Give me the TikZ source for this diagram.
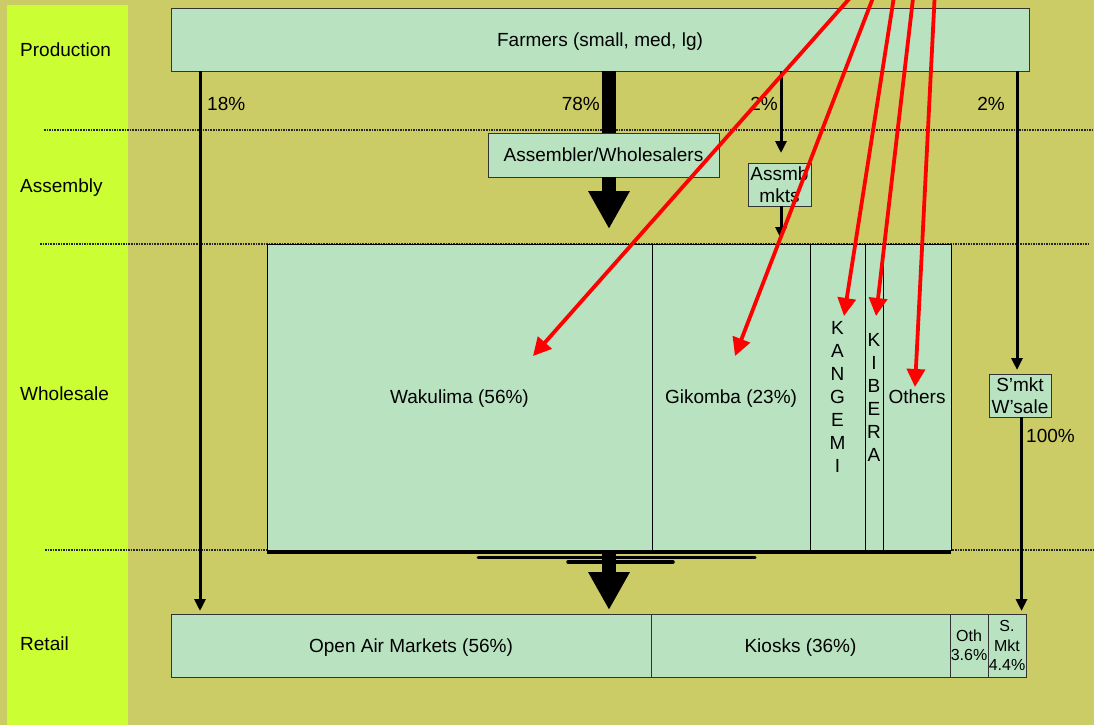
\documentclass[tikz,border=0pt]{standalone}
\usepackage{fontspec}
\setmainfont{Liberation Sans}
\usepackage{tikz}
\usetikzlibrary{positioning,arrows.meta,calc}
\definecolor{bgolive}{RGB}{204,204,102}
\definecolor{bandlime}{RGB}{204,255,51}
\definecolor{boxgreen}{RGB}{185,227,192}

\begin{document}
\begin{tikzpicture}[
  x=1pt, y=-1pt,
  font=\fontsize{19}{22}\selectfont,
  box/.style={draw=black!80, line width=1pt, fill=boxgreen, inner sep=0pt, outer sep=0pt, align=center},
  col/.style={box, draw=black, minimum height=306pt},
  ret/.style={box, minimum height=63pt},
  small/.style={font=\fontsize{16}{19.5}\selectfont},
  arr/.style={line width=3pt, -{Triangle[width=11pt,length=12pt]}},
  bigarr/.style={line width=14pt, -{Triangle[width=39pt,length=38pt]}},
  redarr/.style={red, line width=3.8pt, -{Triangle[width=18pt,length=18pt]}},
  sep/.style={densely dotted, line width=1.6pt, black!85},
  layer/.style={anchor=west, inner sep=0pt},
  pct/.style={inner sep=0pt}]
  \useasboundingbox (0,0) rectangle (1094,725);
  \clip (0,0) rectangle (1094,725);
  \fill[bgolive] (0,0) rectangle (1094,725);
  \fill[bandlime] (7,5) rectangle (128,725);
  % layer separators
  \draw[sep] (44,130) -- (1094,130);
  \draw[sep] (40,244) -- (1090,244);
  \draw[sep] (45,550) -- (1094,550);
  % layers
  \node[layer] (lprod) at (20,50) {Production};
  \node[layer] (lasm) at (20,188) {Assembly};
  \node[layer] (lwhl) at (20,394) {Wholesale};
  \node[layer] (lret) at (20,644) {Retail};
  % production and assembly
  \node[box, text depth=0pt, anchor=north west, minimum width=858pt, minimum height=62pt] (farmers) at (171,9) {Farmers (small, med, lg)};
  \node[box, text depth=0pt, anchor=north west, minimum width=231pt, minimum height=44pt] (asm) at (488,133) {Assembler/Wholesalers};
  \node[box, anchor=north west, minimum width=63pt, minimum height=43pt] (amkt) at (748,163) {\makebox[0pt]{Assmb}\\\makebox[0pt]{mkts}};
  % wholesale markets
  \node[col, text depth=0pt, anchor=north west, minimum width=385pt] (wak) at (267,244) {Wakulima (56\%)};
  \node[col, text depth=0pt, right=0pt of wak, minimum width=158pt] (gik) {Gikomba (23\%)};
  \node[col, right=0pt of gik, minimum width=55pt, font=\fontsize{19}{23}\selectfont] (kan) {K\\A\\N\\G\\E\\M\\I};
  \node[col, right=0pt of kan, minimum width=18pt, font=\fontsize{19}{23}\selectfont] (kib) {K\\I\\B\\E\\R\\A};
  \node[col, text depth=0pt, right=0pt of kib, minimum width=68pt] (oth) {Others};
  \node[box, anchor=north west, minimum width=62pt, minimum height=43pt] (swh) at (989,374) {S'mkt\\W'sale};
  % retail
  \node[ret, text depth=0pt, anchor=north west, minimum width=480pt] (oam) at (171,614) {Open Air Markets (56\%)};
  \node[ret, text depth=0pt, right=0pt of oam, minimum width=299pt] (kio) {Kiosks (36\%)};
  \node[ret, right=0pt of kio, minimum width=38pt, small] (roth) {Oth\\3.6\%};
  \node[ret, right=0pt of roth, minimum width=38pt, small] (smkt) {S.\\Mkt\\4.4\%};
  % shares
  \node[pct, anchor=west] (p18) at (207,104) {18\%};
  \node[pct, anchor=east] (p78) at (600,104) {78\%};
  \node[pct] (p2a) at (764,104) {2\%};
  \node[pct] (p2b) at (991,104) {2\%};
  \node[pct, anchor=west] (p100) at (1026,436) {100\%};
  % flows
  \draw[line width=14pt] ([xshift=9pt]farmers.south) -- ([xshift=5.5pt]asm.north);
  \draw[bigarr, shorten >=15pt] ([xshift=5.5pt]asm.south) -- ([xshift=5.5pt]asm.south |- wak.north);
  \draw[arr, shorten >=3pt] ([xshift=29pt]farmers.south west) -- ([xshift=29pt]oam.north west);
  \draw[arr, shorten >=10pt] ([xshift=1.5pt]amkt.north |- farmers.south) -- ([xshift=1.5pt]amkt.north);
  \draw[arr, shorten >=5pt] ([xshift=1.5pt]amkt.south) -- ([xshift=1.5pt]amkt.south |- gik.north);
  \draw[arr, shorten >=4pt] ([xshift=-12pt]farmers.south east) -- ([xshift=-3pt]swh.north);
  \draw[arr, shorten >=3pt] ([xshift=1.5pt]swh.south) -- ([xshift=1.5pt]swh.south |- smkt.north);
  % pooled wholesale to retail
  \draw[line width=4pt] ([yshift=-2pt]wak.south west) -- ([yshift=-2pt]oth.south east);
  \draw[line width=3pt, line cap=round] (478,557) -- (755,557);
  \draw[line width=3.5pt, line cap=round] (568,562) -- (673,562);
  \draw[bigarr, shorten >=4pt] ([xshift=5.5pt]asm.south |- wak.south) -- ([xshift=5.5pt]asm.south |- oam.north);
  % red arrows from above
  \coordinate (s1) at (857,-10);
  \coordinate (s2) at (876,-10);
  \coordinate (s3) at (895,-10);
  \coordinate (s4) at (914,-10);
  \coordinate (s5) at (935,-10);
  \draw[redarr] (s1) -- ($(wak.north west)+(266,112)$);
  \draw[redarr] (s2) -- ($(gik.north west)+(83,112)$);
  \draw[redarr] (s3) -- ($(kan.north west)+(34,72)$);
  \draw[redarr] (s4) -- ($(kib.north west)+(11,72)$);
  \draw[redarr] (s5) -- ($(oth.north west)+(32,143)$);
\end{tikzpicture}
\end{document}
